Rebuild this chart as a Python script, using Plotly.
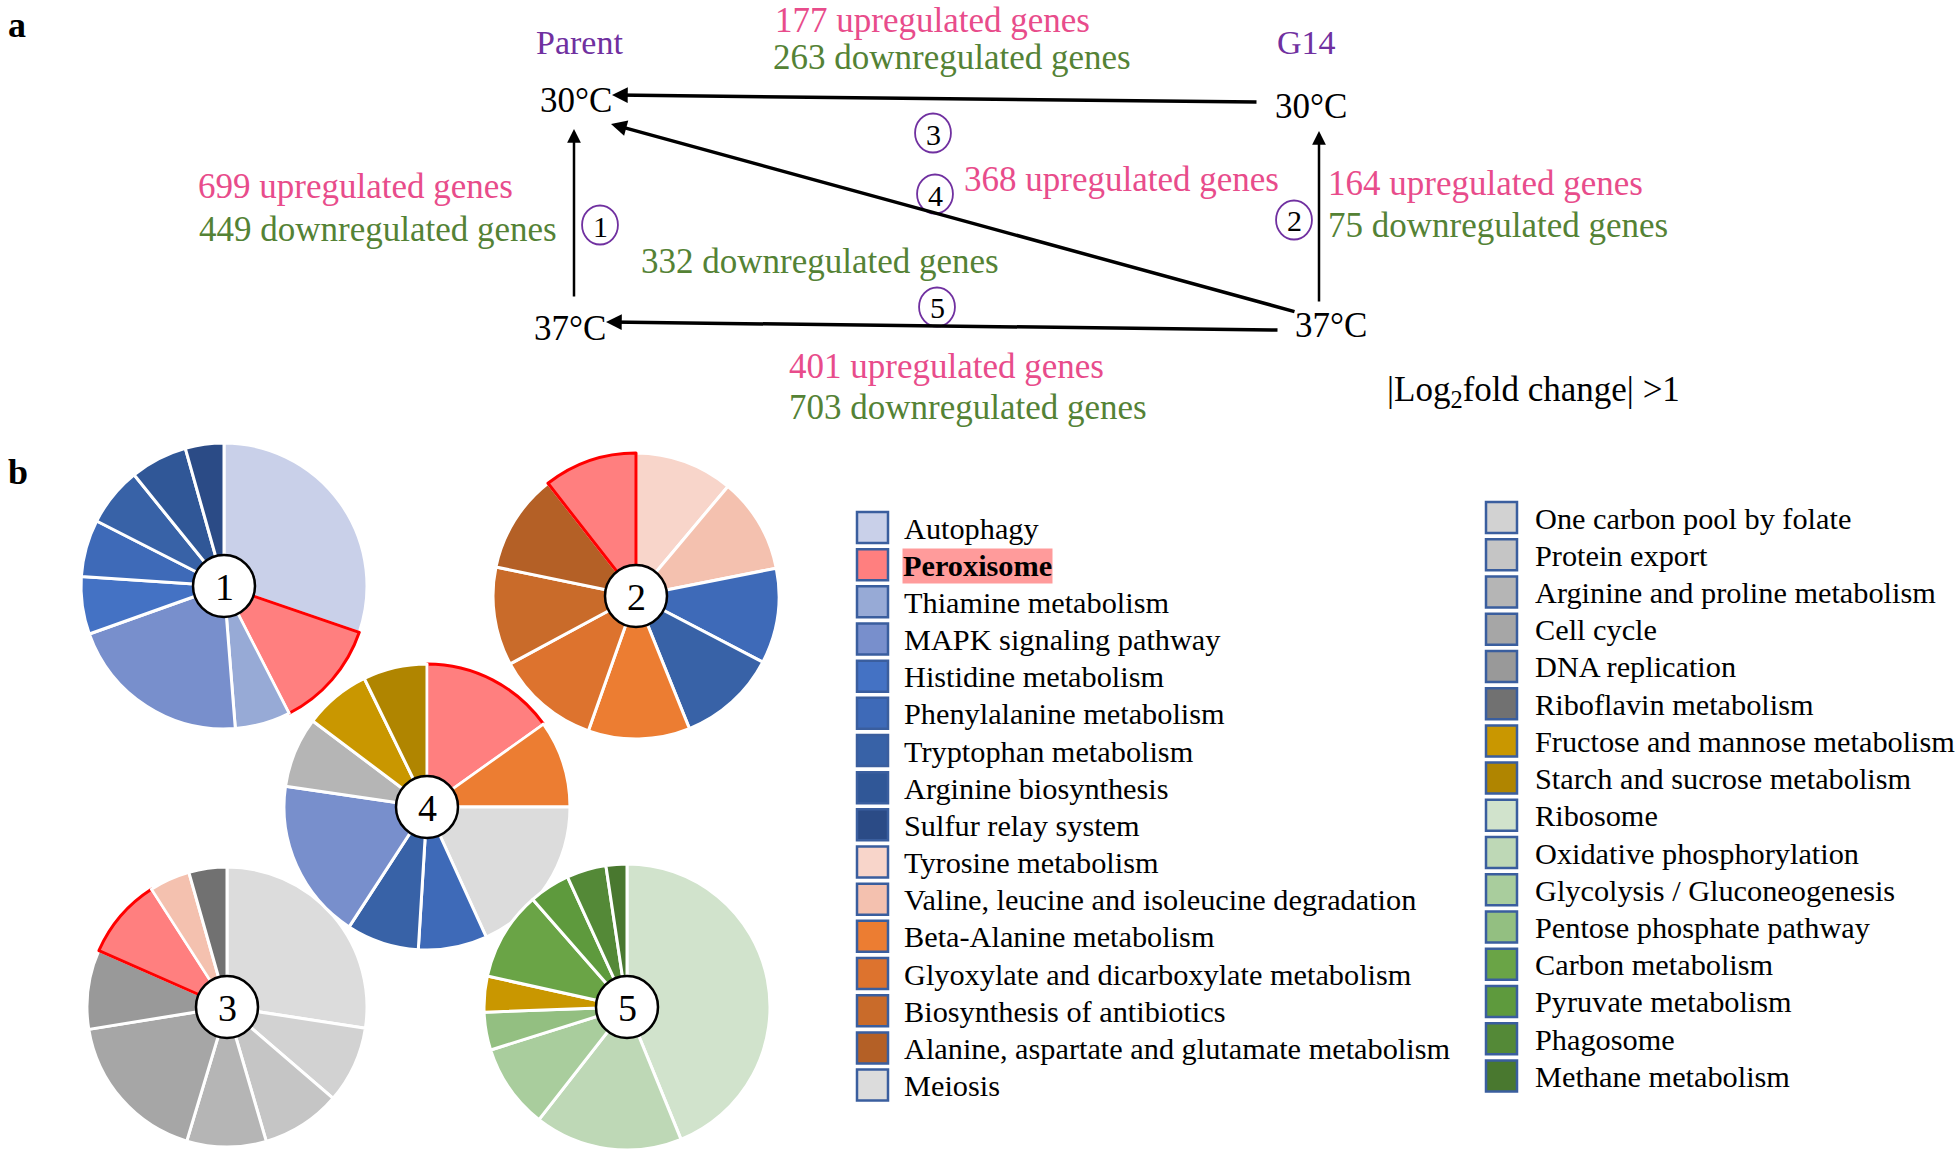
import plotly.graph_objects as go

W, H = 1959, 1154

# ---------------- data ----------------
legend_col1 = ["Autophagy", "Peroxisome", "Thiamine metabolism", "MAPK signaling pathway",
               "Histidine metabolism", "Phenylalanine metabolism", "Tryptophan metabolism",
               "Arginine biosynthesis", "Sulfur relay system", "Tyrosine metabolism",
               "Valine, leucine and isoleucine degradation", "Beta-Alanine metabolism",
               "Glyoxylate and dicarboxylate metabolism", "Biosynthesis of antibiotics",
               "Alanine, aspartate and glutamate metabolism", "Meiosis"]
legend_col2 = ["One carbon pool by folate", "Protein export", "Arginine and proline metabolism",
               "Cell cycle", "DNA replication", "Riboflavin metabolism",
               "Fructose and mannose metabolism", "Starch and sucrose metabolism", "Ribosome",
               "Oxidative phosphorylation", "Glycolysis / Gluconeogenesis",
               "Pentose phosphate pathway", "Carbon metabolism", "Pyruvate metabolism",
               "Phagosome", "Methane metabolism"]

pie1_labels = ["Autophagy", "Peroxisome", "Thiamine metabolism", "MAPK signaling pathway",
               "Histidine metabolism", "Phenylalanine metabolism", "Tryptophan metabolism",
               "Arginine biosynthesis", "Sulfur relay system"]
pie1_values = [109, 44, 22.6, 75, 23.4, 23.3, 24, 23.3, 15.7]

pie2_labels = ["Tyrosine metabolism", "Valine, leucine and isoleucine degradation",
               "Phenylalanine metabolism", "Tryptophan metabolism", "Beta-Alanine metabolism",
               "Glyoxylate and dicarboxylate metabolism", "Biosynthesis of antibiotics",
               "Alanine, aspartate and glutamate metabolism", "Peroxisome"]
pie2_values = [40, 38.8, 38.8, 40.5, 41.4, 42.2, 40.1, 40.3, 38]

pie3_labels = ["Meiosis", "One carbon pool by folate", "Protein export",
               "Arginine and proline metabolism", "Cell cycle", "DNA replication",
               "Peroxisome", "Valine, leucine and isoleucine degradation", "Riboflavin metabolism"]
pie3_values = [98.7, 32, 33, 33, 64.1, 33, 33.5, 16.9, 15.8]

pie4_labels = ["Peroxisome", "Beta-Alanine metabolism", "Meiosis", "Phenylalanine metabolism",
               "Tryptophan metabolism", "MAPK signaling pathway", "Arginine and proline metabolism",
               "Fructose and mannose metabolism", "Starch and sucrose metabolism"]
pie4_values = [54.5, 35.5, 65.5, 28, 29.5, 65.3, 28.7, 27, 26]

pie5_labels = ["Ribosome", "Oxidative phosphorylation", "Glycolysis / Gluconeogenesis",
               "Pentose phosphate pathway", "Fructose and mannose metabolism", "Carbon metabolism",
               "Pyruvate metabolism", "Phagosome", "Methane metabolism"]
pie5_values = [157.8, 60.2, 34.5, 15.4, 14.6, 36.3, 16.6, 16.1, 8.5]

pie_ids = ["1", "2", "3", "4", "5"]

# ---------------- styles ----------------
colors = {
    "Autophagy": "#C9D0E9", "Peroxisome": "#FF7F7F", "Thiamine metabolism": "#97AAD6",
    "MAPK signaling pathway": "#788FCC", "Histidine metabolism": "#4472C4",
    "Phenylalanine metabolism": "#3E6AB8", "Tryptophan metabolism": "#3862A7",
    "Arginine biosynthesis": "#305797", "Sulfur relay system": "#2B4B86",
    "Tyrosine metabolism": "#F8D5CA", "Valine, leucine and isoleucine degradation": "#F4C1AF",
    "Beta-Alanine metabolism": "#EC7D32", "Glyoxylate and dicarboxylate metabolism": "#DD732E",
    "Biosynthesis of antibiotics": "#C96B2A", "Alanine, aspartate and glutamate metabolism": "#B46026",
    "Meiosis": "#DCDCDC", "One carbon pool by folate": "#D2D2D2", "Protein export": "#C5C5C5",
    "Arginine and proline metabolism": "#B5B5B5", "Cell cycle": "#A6A6A6",
    "DNA replication": "#999999", "Riboflavin metabolism": "#717171",
    "Fructose and mannose metabolism": "#C99700", "Starch and sucrose metabolism": "#B08500",
    "Ribosome": "#D1E3CC", "Oxidative phosphorylation": "#BED8B6",
    "Glycolysis / Gluconeogenesis": "#A9CD9D", "Pentose phosphate pathway": "#93BF81",
    "Carbon metabolism": "#6AA446", "Pyruvate metabolism": "#5E9A3D",
    "Phagosome": "#548937", "Methane metabolism": "#49782F",
}
SERIF = "Liberation Serif, Times New Roman, serif"
PINK, GREEN, PURPLE = "#E84C8B", "#548235", "#7030A0"


def fx(x):
    return x / W


def fy(y):
    return 1 - y / H


fig = go.Figure()

# pies: (labels, values, center px, radius px)
pies = [
    (pie1_labels, pie1_values, (224, 586), 143),
    (pie2_labels, pie2_values, (636, 596), 143),
    (pie3_labels, pie3_values, (227, 1007), 140),
    (pie4_labels, pie4_values, (427, 807), 143),
    (pie5_labels, pie5_values, (627, 1007), 143),
]
shapes = []
annotations = []
for (labels, values, (cx, cy), r), pid in zip(pies, pie_ids):
    line_colors = ["#FF0000" if l == "Peroxisome" else "white" for l in labels]
    fig.add_trace(go.Pie(
        labels=labels, values=values, sort=False, direction="clockwise", rotation=0,
        marker=dict(colors=[colors[l] for l in labels],
                    line=dict(color=line_colors, width=3)),
        textinfo="none", hoverinfo="label+value", showlegend=False,
        domain=dict(x=[fx(cx - r), fx(cx + r)], y=[fy(cy + r), fy(cy - r)]),
    ))
    cr = 31
    shapes.append(dict(type="circle", xref="paper", yref="paper",
                       x0=fx(cx - cr), x1=fx(cx + cr), y0=fy(cy + cr), y1=fy(cy - cr),
                       fillcolor="white", line=dict(color="black", width=2.5), layer="above"))
    annotations.append(dict(text=pid, x=fx(cx), y=fy(cy + 1), xref="paper", yref="paper",
                            showarrow=False, xanchor="center", yanchor="middle",
                            font=dict(family=SERIF, size=38, color="black")))


# legend
def legend_column(names, sq_x, txt_x, y0, dy):
    for i, name in enumerate(names):
        yc = y0 + i * dy
        shapes.append(dict(type="rect", xref="paper", yref="paper",
                           x0=fx(sq_x), x1=fx(sq_x + 31), y0=fy(yc + 15.5), y1=fy(yc - 15.5),
                           fillcolor=colors[name], line=dict(color="#3A5E9E", width=2.5)))
        label = "<b>" + name + "</b>" if name == "Peroxisome" else name
        ann = dict(text=label, x=fx(txt_x), y=fy(yc + 1), xref="paper", yref="paper",
                   showarrow=False, xanchor="left", yanchor="middle",
                   font=dict(family=SERIF, size=30.3, color="black"))
        if name == "Peroxisome":
            ann.update(bgcolor="#FF9B9B", borderpad=0)
        annotations.append(ann)


legend_column(legend_col1, 857, 902, 527.5, 37.17)
legend_column(legend_col2, 1486, 1533, 517.5, 37.23)


# ---------------- panel a ----------------
def txt(text, x, y, color="black", size=35, anchor="center", bold=False):
    if bold:
        text = "<b>" + text + "</b>"
    annotations.append(dict(text=text, x=fx(x), y=fy(y), xref="paper", yref="paper",
                            showarrow=False, xanchor=anchor, yanchor="middle",
                            font=dict(family=SERIF, size=size, color=color)))


txt("a", 6, 25, size=36, anchor="left", bold=True)
txt("b", 6, 472, size=36, anchor="left", bold=True)
txt("Parent", 579, 42, PURPLE, 34)
txt("G14", 1306, 42, PURPLE, 34)
txt("30°C", 576, 100)
txt("30°C", 1311, 106)
txt("37°C", 570, 328)
txt("37°C", 1331, 325)
txt("177 upregulated genes", 932, 21, PINK)
txt("263 downregulated genes", 952, 57, GREEN)
txt("699 upregulated genes", 515, 187, PINK, anchor="right")
txt("449 downregulated genes", 559, 230, GREEN, anchor="right")
txt("368 upregulated genes", 962, 179, PINK, anchor="left")
txt("332 downregulated genes", 820, 261, GREEN)
txt("164 upregulated genes", 1326, 183, PINK, anchor="left")
txt("75 downregulated genes", 1326, 225, GREEN, anchor="left")
txt("401 upregulated genes", 946, 366, PINK)
txt("703 downregulated genes", 968, 407, GREEN)
txt("|Log<sub>2</sub>fold change| >1", 1385, 391, anchor="left")

# numbered circles
for num, (x, y) in zip(["1", "2", "3", "4", "5"],
                       [(600, 225), (1294, 220), (933, 133), (935, 194), (937, 307)]):
    rr = 19.5
    shapes.append(dict(type="circle", xref="paper", yref="paper",
                       x0=fx(x - rr * 0.92), x1=fx(x + rr * 0.92), y0=fy(y + rr), y1=fy(y - rr),
                       fillcolor="white", line=dict(color=PURPLE, width=1.8), layer="above"))
    annotations.append(dict(text=num, x=fx(x), y=fy(y + 1), xref="paper", yref="paper",
                            showarrow=False, xanchor="center", yanchor="middle",
                            font=dict(family=SERIF, size=30, color="black")))

# arrows: (head, tail, width)
arrows = [((612, 95), (1258, 102), 3.5),
          ((611, 124), (1296, 312), 3.5),
          ((606, 322), (1279, 330), 3.5),
          ((574, 129), (574, 298), 2.5),
          ((1319, 131), (1319, 303), 2.5)]
for (hx, hy), (tx, ty), w in arrows:
    annotations.append(dict(text="", x=fx(hx), y=fy(hy), xref="paper", yref="paper",
                            ax=tx - hx, ay=ty - hy, axref="pixel", ayref="pixel",
                            showarrow=True, arrowhead=2, arrowsize=0.9 if w > 3 else 1.1,
                            arrowwidth=w, arrowcolor="black", standoff=0, startstandoff=0))

fig.update_layout(
    width=W, height=H, margin=dict(l=0, r=0, t=0, b=0),
    paper_bgcolor="white", plot_bgcolor="white",
    shapes=shapes, annotations=annotations, showlegend=False,
)
fig.write_html("out.html", config={"displayModeBar": False},
               post_script="document.body.style.margin='0px';document.body.style.overflow='hidden';")
